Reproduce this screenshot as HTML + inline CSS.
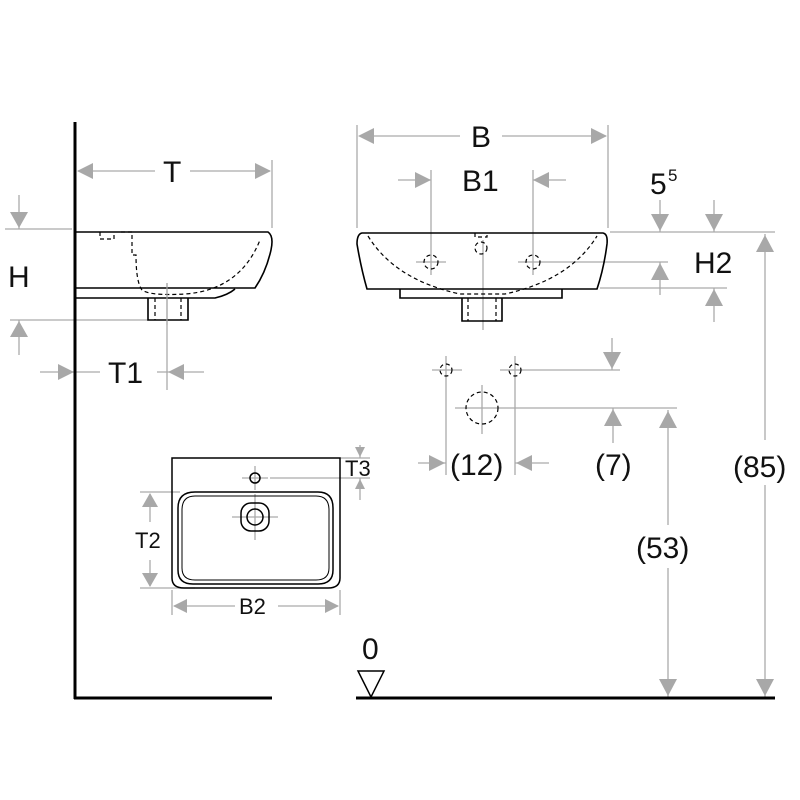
<!DOCTYPE html>
<html><head><meta charset="utf-8"><style>
html,body{margin:0;padding:0;background:#fff;width:800px;height:800px;overflow:hidden}
svg text{font-family:"Liberation Sans",sans-serif;fill:#111}
</style></head><body>
<svg width="800" height="800" viewBox="0 0 800 800" xmlns="http://www.w3.org/2000/svg">
<g stroke="#aaa" stroke-width="1.3" fill="none">
<line x1="78" y1="171" x2="155" y2="171"/><line x1="190" y1="171" x2="270" y2="171"/>
<line x1="272" y1="160" x2="272" y2="228"/>
<line x1="5" y1="229" x2="72" y2="229"/><line x1="19" y1="195" x2="19" y2="229"/>
<line x1="10" y1="320" x2="148" y2="320"/><line x1="19" y1="320" x2="19" y2="355"/>
<line x1="40" y1="372" x2="100" y2="372"/><line x1="157" y1="372" x2="204" y2="372"/>
<line x1="167" y1="283" x2="167" y2="390"/>
<line x1="357" y1="125" x2="357" y2="228"/><line x1="608" y1="125" x2="608" y2="228"/>
<line x1="360" y1="136" x2="460" y2="136"/><line x1="502" y1="136" x2="606" y2="136"/>
<line x1="398" y1="180" x2="431" y2="180"/><line x1="533" y1="180" x2="566" y2="180"/>
<line x1="431" y1="170" x2="431" y2="275"/><line x1="533" y1="170" x2="533" y2="275"/>
<line x1="416" y1="262" x2="446" y2="262"/><line x1="518" y1="262" x2="668" y2="262"/>
<line x1="483" y1="240" x2="483" y2="330"/>
<line x1="610" y1="232" x2="775" y2="232"/>
<line x1="660" y1="200" x2="660" y2="232"/><line x1="714" y1="200" x2="714" y2="232"/>
<line x1="660" y1="262" x2="660" y2="295"/>
<line x1="600" y1="288" x2="727" y2="288"/><line x1="714" y1="288" x2="714" y2="322"/>
<line x1="765" y1="234" x2="765" y2="440"/><line x1="765" y1="485" x2="765" y2="697"/>
<line x1="432" y1="370" x2="462" y2="370"/><line x1="446" y1="356" x2="446" y2="385"/>
<line x1="500" y1="370" x2="620" y2="370"/><line x1="515" y1="356" x2="515" y2="385"/>
<line x1="455" y1="408" x2="677" y2="408"/><line x1="482" y1="385" x2="482" y2="434"/>
<line x1="446" y1="385" x2="446" y2="475"/><line x1="515" y1="385" x2="515" y2="475"/>
<line x1="612" y1="338" x2="612" y2="370"/><line x1="613" y1="408" x2="613" y2="443"/>
<line x1="418" y1="463" x2="446" y2="463"/><line x1="515" y1="463" x2="549" y2="463"/>
<line x1="668" y1="410" x2="668" y2="525"/><line x1="668" y1="568" x2="668" y2="697"/>
<line x1="360" y1="445" x2="360" y2="458"/><line x1="340" y1="458" x2="370" y2="458"/>
<line x1="270" y1="478" x2="370" y2="478"/><line x1="360" y1="478" x2="360" y2="500"/>
<line x1="242" y1="478" x2="268" y2="478"/><line x1="255" y1="466" x2="255" y2="490"/>
<line x1="232" y1="517" x2="278" y2="517"/><line x1="255" y1="494" x2="255" y2="540"/>
<line x1="140" y1="492" x2="180" y2="492"/><line x1="140" y1="588" x2="195" y2="588"/>
<line x1="150" y1="494" x2="150" y2="522"/><line x1="150" y1="560" x2="150" y2="586"/>
<line x1="172" y1="590" x2="172" y2="615"/><line x1="340" y1="590" x2="340" y2="615"/>
<line x1="174" y1="606" x2="235" y2="606"/><line x1="278" y1="606" x2="338" y2="606"/>
</g>
<g fill="#a8a8a8" stroke="none">
<polygon points="77,171 93,163 93,179"/><polygon points="271,171 255,163 255,179"/>
<polygon points="19,228 10,212 28,212"/><polygon points="19,321 10,337 28,337"/>
<polygon points="74,372 58,364 58,380"/><polygon points="168,372 184,364 184,380"/>
<polygon points="358,136 374,128 374,144"/><polygon points="607,136 591,128 591,144"/>
<polygon points="431,180 415,172 415,188"/><polygon points="533,180 549,172 549,188"/>
<polygon points="660,231 651,214 669,214"/><polygon points="714,231 705,214 723,214"/>
<polygon points="660,263 651,280 669,280"/><polygon points="714,289 705,306 723,306"/>
<polygon points="765,235 756,252 774,252"/><polygon points="765,696 756,679 774,679"/>
<polygon points="612,369 603,352 621,352"/><polygon points="613,409 604,426 622,426"/>
<polygon points="668,411 659,428 677,428"/><polygon points="668,696 659,679 677,679"/>
<polygon points="445,463 429,455 429,471"/><polygon points="516,463 532,455 532,471"/>
<polygon points="360,457 355,447 365,447"/><polygon points="360,479 355,489 365,489"/>
<polygon points="150,493 142,507 158,507"/><polygon points="150,587 142,573 158,573"/>
<polygon points="173,606 187,599 187,613"/><polygon points="339,606 325,599 325,613"/>
</g>
<g stroke="#000" stroke-width="3" fill="none">
<line x1="75" y1="122" x2="75" y2="699"/><line x1="74" y1="698" x2="272" y2="698"/>
<line x1="356" y1="698" x2="775" y2="698"/>
</g>
<polygon points="358,671 384,671 371,697" fill="none" stroke="#000" stroke-width="1.5"/>
<g stroke="#000" stroke-width="1.6" fill="none">
<path d="M75,232 H268 Q274,236 271,250 Q266,272 255,288 H75"/>
<path d="M75,298 H215 Q228,295 235,289"/>
<path d="M148,298 V320 H188 V298"/>
</g>
<g stroke="#000" stroke-width="1.2" fill="none" stroke-dasharray="4,3">
<path d="M100,232 V239 H114 V232"/>
<path d="M121,232 H132 V255 H136 Q136,282 142,290 Q150,296 185,294 Q240,290 260,240"/>
<path d="M155,298 V320 M181,298 V320"/>
</g>
<line x1="167" y1="283" x2="167" y2="325" stroke="#aaa" stroke-width="1.2"/>
<g stroke="#000" stroke-width="1.6" fill="none">
<path d="M362,233 H603 Q608,234 607,244 Q604,268 597,289 H367 Q361,268 357,244 Q357,234 362,233 Z"/>
<path d="M400,289 V298 H562 V289"/>
<path d="M462,298 V321 H502 V298"/>
</g>
<g stroke="#000" stroke-width="1.2" fill="none" stroke-dasharray="4,3">
<path d="M368,236 Q395,280 460,294 H505 Q570,280 597,236"/>
<circle cx="481" cy="248" r="6"/><path d="M475,233 V237 H487 V233"/>
<circle cx="431" cy="262" r="7"/><circle cx="533" cy="262" r="7"/>
<path d="M468,298 V321 M496,298 V321"/>
<circle cx="446" cy="370" r="6"/><circle cx="515" cy="370" r="6"/>
<circle cx="482" cy="408" r="16"/>
</g>
<g stroke="#000" stroke-width="1.5" fill="none">
<path d="M172,458 H340 V578 Q340,588 328,588 H184 Q172,588 172,578 Z"/>
<path d="M195,492 H318 Q333,492 333,508 V570 Q333,584 318,584 H193 Q178,584 178,570 V508 Q178,492 195,492 Z"/>
<path d="M195,496 H316 Q329,496 329,510 V568 Q329,580 316,580 H195 Q182,580 182,568 V510 Q182,496 195,496 Z" stroke-width="1"/>
<circle cx="255" cy="478" r="5"/>
<rect x="241" y="503" width="28" height="28" rx="10"/>
<circle cx="255" cy="517" r="8"/>
</g>
<g font-size="30">
<text x="163" y="182">T</text>
<text x="8" y="287">H</text>
<text x="108" y="383">T1</text>
<text x="471" y="147">B</text>
<text x="462" y="191">B1</text>
<text x="650" y="194">5</text><text x="668" y="181" font-size="17">5</text>
<text x="694" y="273">H2</text>
<text x="733" y="477">(85)</text>
<text x="450" y="475">(12)</text>
<text x="595" y="475">(7)</text>
<text x="636" y="558">(53)</text>
<text x="362" y="659">0</text>
</g>
<g font-size="22">
<text x="345" y="476">T3</text>
<text x="135" y="548">T2</text>
<text x="239" y="614">B2</text>
</g>
</svg>
</body></html>
